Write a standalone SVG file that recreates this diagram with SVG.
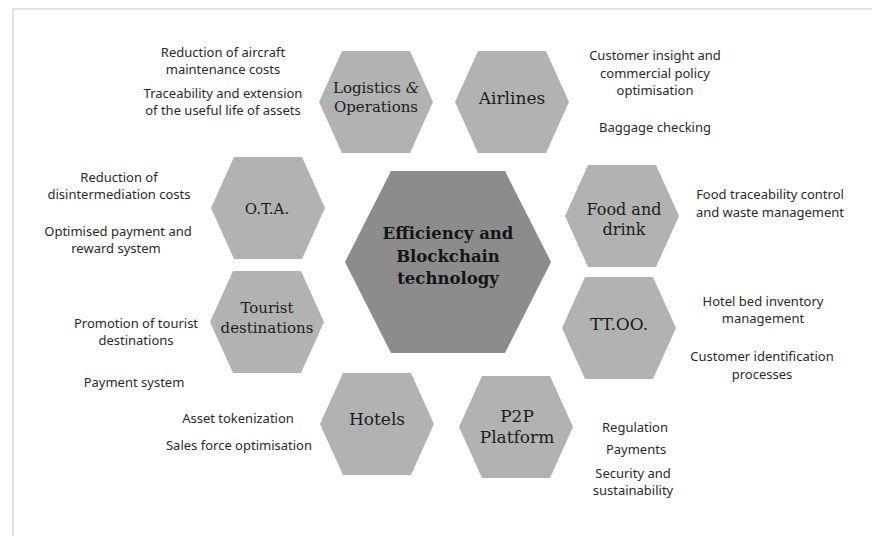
<svg xmlns="http://www.w3.org/2000/svg" xmlns:xlink="http://www.w3.org/1999/xlink" width="872" height="536" viewBox="0 0 872 536">
  <style>
    .hex { fill: #b2b2b2; }
    .core { fill: #8c8c8c; }
    .lbl { font-family: "DejaVu Serif", "Liberation Serif", serif; fill: #1c1c1c; text-anchor: middle; }
    .core-lbl { font-family: "DejaVu Serif", "Liberation Serif", serif; font-weight: bold; font-size: 16.5px; fill: #141414; text-anchor: middle; }
    .note { font-family: "Noto Sans", "Open Sans", sans-serif; font-size: 13px; fill: #2a2a2a; text-anchor: middle; }
    .frame { stroke: #e3e3e3; stroke-width: 2; fill: none; }
  </style>
  <defs>
    <!-- flat-topped hexagon centred on the origin -->
    <polygon id="hex" points="-57,0 -34,-51 34,-51 57,0 34,51 -34,51"/>
  </defs>

  <rect width="872" height="536" fill="#ffffff"/>
  <path class="frame" d="M13,536 V9 H872"/>

  <!-- centre -->
  <g id="core">
    <polygon class="core" points="345,262 391,171 505,171 551,262 505,353 391,353"/>
    <text class="core-lbl" x="448" y="239">Efficiency and</text>
    <text class="core-lbl" x="448" y="262">Blockchain</text>
    <text class="core-lbl" x="448" y="284">technology</text>
  </g>

  <g id="logistics">
    <use xlink:href="#hex" class="hex" transform="translate(376,102)"/>
    <text class="lbl" font-size="15" x="376" y="93">Logistics <tspan font-style="italic">&amp;</tspan></text>
    <text class="lbl" font-size="15" x="376" y="112">Operations</text>
    <text class="note" x="223" y="57">Reduction of aircraft</text>
    <text class="note" x="223" y="74">maintenance costs</text>
    <text class="note" x="223" y="98">Traceability and extension</text>
    <text class="note" x="223" y="115">of the useful life of assets</text>
  </g>

  <g id="airlines">
    <use xlink:href="#hex" class="hex" transform="translate(512,102)"/>
    <text class="lbl" font-size="17" x="512" y="104">Airlines</text>
    <text class="note" x="655" y="60">Customer insight and</text>
    <text class="note" x="655" y="78">commercial policy</text>
    <text class="note" x="655" y="95">optimisation</text>
    <text class="note" x="655" y="132">Baggage checking</text>
  </g>

  <g id="ota">
    <use xlink:href="#hex" class="hex" transform="translate(268,208)"/>
    <text class="lbl" font-size="15" x="267" y="214">O.T.A.</text>
    <text class="note" x="119" y="182">Reduction of</text>
    <text class="note" x="119" y="199">disintermediation costs</text>
    <text class="note" x="118" y="236">Optimised payment and</text>
    <text class="note" x="116" y="253">reward system</text>
  </g>

  <g id="tourist">
    <use xlink:href="#hex" class="hex" transform="translate(267,322)"/>
    <text class="lbl" font-size="15" x="267" y="313">Tourist</text>
    <text class="lbl" font-size="15" x="267" y="333">destinations</text>
    <text class="note" x="136" y="328">Promotion of tourist</text>
    <text class="note" x="136" y="345">destinations</text>
    <text class="note" x="134" y="387">Payment system</text>
  </g>

  <g id="food">
    <use xlink:href="#hex" class="hex" transform="translate(622,216)"/>
    <text class="lbl" font-size="16" x="624" y="215">Food and</text>
    <text class="lbl" font-size="16" x="624" y="235">drink</text>
    <text class="note" x="770" y="199">Food traceability control</text>
    <text class="note" x="770" y="217">and waste management</text>
  </g>

  <g id="ttoo">
    <use xlink:href="#hex" class="hex" transform="translate(619,328)"/>
    <text class="lbl" font-size="17" x="619" y="330">TT.OO.</text>
    <text class="note" x="763" y="306">Hotel bed inventory</text>
    <text class="note" x="763" y="323">management</text>
    <text class="note" x="762" y="361">Customer identification</text>
    <text class="note" x="762" y="379">processes</text>
  </g>

  <g id="hotels">
    <use xlink:href="#hex" class="hex" transform="translate(377,424)"/>
    <text class="lbl" font-size="17" x="377" y="425">Hotels</text>
    <text class="note" x="238" y="423">Asset tokenization</text>
    <text class="note" x="239" y="450">Sales force optimisation</text>
  </g>

  <g id="p2p">
    <use xlink:href="#hex" class="hex" transform="translate(516,427)"/>
    <text class="lbl" font-size="17" x="517" y="422">P2P</text>
    <text class="lbl" font-size="17" x="517" y="443">Platform</text>
    <text class="note" x="635" y="432">Regulation</text>
    <text class="note" x="636" y="454">Payments</text>
    <text class="note" x="633" y="478">Security and</text>
    <text class="note" x="633" y="495">sustainability</text>
  </g>

  <!-- the layout has no connectors -->
  <g id="connectors"/>
</svg>
